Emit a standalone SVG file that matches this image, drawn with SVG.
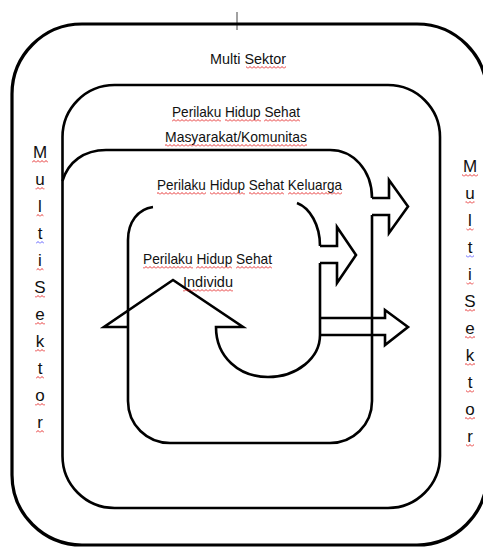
<svg xmlns="http://www.w3.org/2000/svg" width="483" height="547" viewBox="0 0 483 547">
<style>
.ln{fill:none;stroke:#000;stroke-width:2.6;stroke-linejoin:miter}
.outer{fill:none;stroke:#000;stroke-width:3.2}
.t{font-family:"Liberation Sans",Arial,sans-serif;font-size:15px;fill:#111}
.v{font-family:"Liberation Sans",Arial,sans-serif;font-size:17px;fill:#111;text-anchor:middle}
.sq{fill:url(#sqr)}
.sqb{fill:url(#sqb)}
</style>
<defs>
<pattern id="sqr" width="4" height="3" patternUnits="userSpaceOnUse"><path d="M0,2.5 L2,0.5 L4,2.5" fill="none" stroke="#e00000" stroke-width="0.8"/></pattern>
<pattern id="sqb" width="4" height="3" patternUnits="userSpaceOnUse"><path d="M0,2.5 L2,0.5 L4,2.5" fill="none" stroke="#3a3aff" stroke-width="0.8"/></pattern>
</defs>
<rect width="483" height="547" fill="#fff"/>
<line x1="237" y1="12" x2="237" y2="30" stroke="#444" stroke-width="1"/>

<g id="multi-sektor">
<rect class="outer" x="12" y="24" width="475" height="521" rx="70"/>
<text class="t" x="210" y="64" textLength="76" lengthAdjust="spacingAndGlyphs">Multi Sektor</text>
<rect class="sq" x="246" y="0" width="40" height="3" transform="translate(0,66)"/>
<g id="sektor-left">
<text class="v" x="40" y="158">M</text>
<text class="v" x="40" y="185">u</text>
<text class="v" x="40" y="212">l</text>
<text class="v" x="40" y="239">t</text>
<text class="v" x="40" y="266">i</text>
<text class="v" x="40" y="293">S</text>
<text class="v" x="40" y="320">e</text>
<text class="v" x="40" y="347">k</text>
<text class="v" x="40" y="374">t</text>
<text class="v" x="40" y="401">o</text>
<text class="v" x="40" y="428">r</text>
<rect class="sq" x="32" y="0" width="16" height="3" transform="translate(0,160)"/>
<rect class="sq" x="35.5" y="0" width="9" height="3" transform="translate(0,187)"/>
<rect class="sq" x="36.5" y="0" width="7" height="3" transform="translate(0,214)"/>
<rect class="sqb" x="36" y="0" width="8" height="3" transform="translate(0,241)"/>
<rect class="sq" x="36.5" y="0" width="7" height="3" transform="translate(0,268)"/>
<rect class="sq" x="35" y="0" width="10" height="3" transform="translate(0,295)"/>
<rect class="sq" x="35" y="0" width="10" height="3" transform="translate(0,322)"/>
<rect class="sq" x="35" y="0" width="10" height="3" transform="translate(0,349)"/>
<rect class="sq" x="36" y="0" width="8" height="3" transform="translate(0,376)"/>
<rect class="sq" x="35" y="0" width="10" height="3" transform="translate(0,403)"/>
<rect class="sq" x="36" y="0" width="8" height="3" transform="translate(0,430)"/>
</g>
<g id="sektor-right">
<text class="v" x="470" y="172">M</text>
<text class="v" x="470" y="199">u</text>
<text class="v" x="470" y="226">l</text>
<text class="v" x="470" y="253">t</text>
<text class="v" x="470" y="280">i</text>
<text class="v" x="470" y="307">S</text>
<text class="v" x="470" y="334">e</text>
<text class="v" x="470" y="361">k</text>
<text class="v" x="470" y="388">t</text>
<text class="v" x="470" y="415">o</text>
<text class="v" x="470" y="442">r</text>
<rect class="sq" x="462" y="0" width="16" height="3" transform="translate(0,174)"/>
<rect class="sq" x="465.5" y="0" width="9" height="3" transform="translate(0,201)"/>
<rect class="sq" x="466.5" y="0" width="7" height="3" transform="translate(0,228)"/>
<rect class="sqb" x="466" y="0" width="8" height="3" transform="translate(0,255)"/>
<rect class="sq" x="466.5" y="0" width="7" height="3" transform="translate(0,282)"/>
<rect class="sq" x="465" y="0" width="10" height="3" transform="translate(0,309)"/>
<rect class="sq" x="465" y="0" width="10" height="3" transform="translate(0,336)"/>
<rect class="sq" x="465" y="0" width="10" height="3" transform="translate(0,363)"/>
<rect class="sq" x="466" y="0" width="8" height="3" transform="translate(0,390)"/>
<rect class="sq" x="465" y="0" width="10" height="3" transform="translate(0,417)"/>
<rect class="sq" x="466" y="0" width="8" height="3" transform="translate(0,444)"/>
</g>
</g>

<g id="komunitas">
<rect class="ln" x="62.5" y="85" width="377.5" height="423" rx="52"/>
<text class="t" x="172" y="117" textLength="128" lengthAdjust="spacingAndGlyphs">Perilaku Hidup Sehat</text>
<text class="t" x="165" y="142" textLength="142" lengthAdjust="spacingAndGlyphs">Masyarakat/Komunitas</text>
<rect class="sq" x="172" y="0" width="49" height="3" transform="translate(0,119)"/>
<rect class="sq" x="225" y="0" width="36" height="3" transform="translate(0,119)"/>
<rect class="sq" x="264" y="0" width="36" height="3" transform="translate(0,119)"/>
<rect class="sq" x="165" y="0" width="142" height="3" transform="translate(0,144)"/>
</g>

<g id="keluarga">
<path class="ln" d="M62.5,181 C68,162 84,150 106,150 L330,150 C353,150 372,170 372,198 M372,215 L372,401 C372,425 353,443 330,443 L170,443 C147,443 128,425 128,401 L128,240 C128,222 138,209 153,207"/>
<text class="t" x="157" y="190" textLength="185" lengthAdjust="spacingAndGlyphs">Perilaku Hidup Sehat Keluarga</text>
<rect class="sq" x="157" y="0" width="49" height="3" transform="translate(0,192)"/>
<rect class="sq" x="210" y="0" width="35" height="3" transform="translate(0,192)"/>
<rect class="sq" x="249" y="0" width="35" height="3" transform="translate(0,192)"/>
<rect class="sq" x="288" y="0" width="54" height="3" transform="translate(0,192)"/>
</g>

<g id="individu">
<path class="ln" d="M297,203 C310,208 320,225 320,246 M320,263 L320,335 C320,358 297,377 268,377 C239,377 216,357 216,327 L243,327 L173,280 L104,327 L128,327"/>
<text class="t" x="143" y="264" textLength="129" lengthAdjust="spacingAndGlyphs">Perilaku Hidup Sehat</text>
<text class="t" x="183" y="287" textLength="50" lengthAdjust="spacingAndGlyphs">Individu</text>
<rect class="sq" x="143" y="0" width="50" height="3" transform="translate(0,266)"/>
<rect class="sq" x="196" y="0" width="36" height="3" transform="translate(0,266)"/>
<rect class="sq" x="236" y="0" width="36" height="3" transform="translate(0,266)"/>
<rect class="sq" x="183" y="0" width="50" height="3" transform="translate(0,289)"/>
</g>

<g id="connectors">
<path class="ln" d="M372,198 L389,198 L389,180 L408,206.5 L389,233 L389,215 L372,215"/>
<path class="ln" d="M320,246 L337,246 L337,227 L356,255 L337,283 L337,263 L320,263"/>
<path class="ln" d="M320,318 L385,318 L385,310 L408,327 L385,345 L385,335 L320,335"/>
</g>
</svg>
